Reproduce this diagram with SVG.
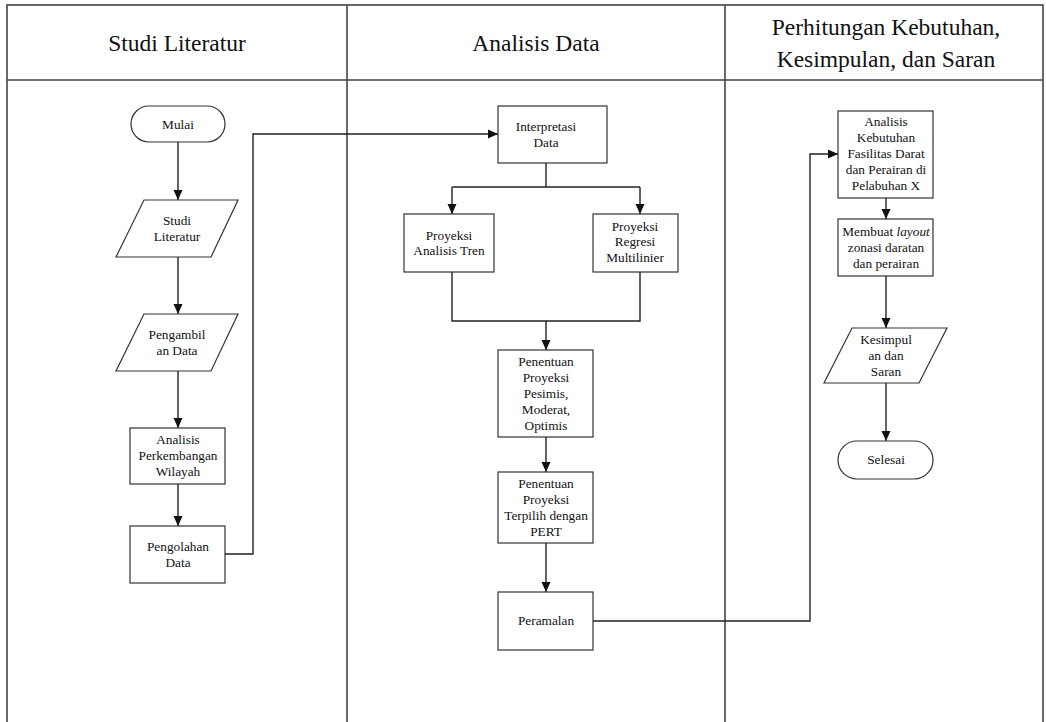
<svg xmlns="http://www.w3.org/2000/svg" width="1046" height="722" viewBox="0 0 1046 722">
<style>
.frame{fill:none;stroke:#444;stroke-width:1.6}
.node{fill:#fff;stroke:#333;stroke-width:1.2}
.t{font-size:13.3px;fill:#111;text-anchor:middle}
.h{font-size:23.5px;fill:#111;text-anchor:middle}
.c{fill:none;stroke:#222;stroke-width:1.4}
</style>
<defs>
<marker id="ah" markerUnits="userSpaceOnUse" markerWidth="10" markerHeight="10" viewBox="0 0 10 10" refX="10" refY="5" orient="auto">
<path d="M0,0.5 L10,5 L0,9.5 z" fill="#111"/>
</marker>
</defs>
<rect width="1046" height="722" fill="#fff"/>
<g id="lanes" font-family="'Liberation Serif', 'DejaVu Serif', serif">
<rect class="frame" x="7" y="5" width="1036" height="740"/>
<line class="frame" x1="7" y1="80" x2="1043" y2="80"/>
<line class="frame" x1="347" y1="5" x2="347" y2="722"/>
<line class="frame" x1="725" y1="5" x2="725" y2="722"/>
<text class="h" x="177" y="51">Studi Literatur</text>
<text class="h" x="536" y="51">Analisis Data</text>
<text class="h" x="886" y="35">Perhitungan Kebutuhan,</text>
<text class="h" x="886" y="67">Kesimpulan, dan Saran</text>
</g>
<g id="connectors">
<path class="c" d="M178,142 V200" marker-end="url(#ah)"/>
<path class="c" d="M178,257 V314" marker-end="url(#ah)"/>
<path class="c" d="M178,371 V428" marker-end="url(#ah)"/>
<path class="c" d="M178,484 V526" marker-end="url(#ah)"/>
<path class="c" d="M225,554 H253 V134 H498" marker-end="url(#ah)"/>
<path class="c" d="M546,163 V187"/>
<path class="c" d="M452,187 H640"/>
<path class="c" d="M452,187 V214" marker-end="url(#ah)"/>
<path class="c" d="M640,187 V214" marker-end="url(#ah)"/>
<path class="c" d="M452,272 V321 H640 V272"/>
<path class="c" d="M546,321 V350" marker-end="url(#ah)"/>
<path class="c" d="M546,437 V472" marker-end="url(#ah)"/>
<path class="c" d="M546,543 V592" marker-end="url(#ah)"/>
<path class="c" d="M593,621 H810 V154 H838" marker-end="url(#ah)"/>
<path class="c" d="M886,198 V219" marker-end="url(#ah)"/>
<path class="c" d="M886,276 V328" marker-end="url(#ah)"/>
<path class="c" d="M886,383 V441" marker-end="url(#ah)"/>
</g>
<g id="nodes" font-family="'Liberation Serif', 'DejaVu Serif', serif">
<g id="mulai">
<rect class="node" x="131" y="106" width="94" height="36" rx="18"/>
<text class="t" x="178" y="129">Mulai</text>
</g>
<g id="studi-literatur">
<polygon class="node" points="144,200 238,200 211,257 116,257"/>
<text class="t" x="177" y="225">Studi</text>
<text class="t" x="177" y="241">Literatur</text>
</g>
<g id="pengambilan-data">
<polygon class="node" points="144,314 238,314 211,371 116,371"/>
<text class="t" x="177" y="339">Pengambil</text>
<text class="t" x="177" y="355">an Data</text>
</g>
<g id="analisis-perkembangan">
<rect class="node" x="130" y="428" width="95" height="56"/>
<text class="t" x="178" y="444">Analisis</text>
<text class="t" x="178" y="460">Perkembangan</text>
<text class="t" x="178" y="476">Wilayah</text>
</g>
<g id="pengolahan-data">
<rect class="node" x="130" y="526" width="95" height="57"/>
<text class="t" x="178" y="551">Pengolahan</text>
<text class="t" x="178" y="567">Data</text>
</g>
<g id="interpretasi-data">
<rect class="node" x="498" y="106" width="109" height="57"/>
<text class="t" x="546" y="131">Interpretasi</text>
<text class="t" x="546" y="147">Data</text>
</g>
<g id="proyeksi-tren">
<rect class="node" x="404" y="214" width="90" height="58"/>
<text class="t" x="449" y="240">Proyeksi</text>
<text class="t" x="449" y="255">Analisis Tren</text>
</g>
<g id="proyeksi-regresi">
<rect class="node" x="593" y="214" width="85" height="58"/>
<text class="t" x="635" y="231">Proyeksi</text>
<text class="t" x="635" y="246">Regresi</text>
<text class="t" x="635" y="262">Multilinier</text>
</g>
<g id="penentuan-proyeksi">
<rect class="node" x="498" y="350" width="95" height="87"/>
<text class="t" x="546" y="366">Penentuan</text>
<text class="t" x="546" y="382">Proyeksi</text>
<text class="t" x="546" y="398">Pesimis,</text>
<text class="t" x="546" y="414">Moderat,</text>
<text class="t" x="546" y="430">Optimis</text>
</g>
<g id="penentuan-pert">
<rect class="node" x="498" y="472" width="95" height="71"/>
<text class="t" x="546" y="488">Penentuan</text>
<text class="t" x="546" y="504">Proyeksi</text>
<text class="t" x="546" y="520">Terpilih dengan</text>
<text class="t" x="546" y="536">PERT</text>
</g>
<g id="peramalan">
<rect class="node" x="498" y="592" width="95" height="58"/>
<text class="t" x="546" y="625">Peramalan</text>
</g>
<g id="analisis-kebutuhan">
<rect class="node" x="838" y="111" width="95" height="87"/>
<text class="t" x="886" y="126">Analisis</text>
<text class="t" x="886" y="142">Kebutuhan</text>
<text class="t" x="886" y="158">Fasilitas Darat</text>
<text class="t" x="886" y="174">dan Perairan di</text>
<text class="t" x="886" y="190">Pelabuhan X</text>
</g>
<g id="membuat-layout">
<rect class="node" x="838" y="219" width="95" height="57"/>
<text class="t" x="886" y="236">Membuat <tspan font-style="italic">layout</tspan></text>
<text class="t" x="886" y="252">zonasi daratan</text>
<text class="t" x="886" y="268">dan perairan</text>
</g>
<g id="kesimpulan-saran">
<polygon class="node" points="852,328 947,328 919,383 824,383"/>
<text class="t" x="886" y="344">Kesimpul</text>
<text class="t" x="886" y="360">an dan</text>
<text class="t" x="886" y="376">Saran</text>
</g>
<g id="selesai">
<rect class="node" x="838" y="441" width="95" height="38" rx="19"/>
<text class="t" x="886" y="464">Selesai</text>
</g>
</g>
</svg>
